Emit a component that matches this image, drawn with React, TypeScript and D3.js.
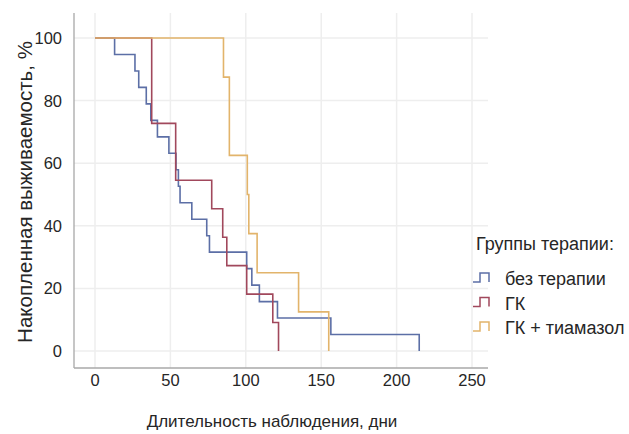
import React from "react";
import * as d3 from "d3";

const groupNames = ["без терапии", "ГК", "ГК + тиамазол"];
const groupColors = ["#5c6fa6", "#a1485c", "#e2b46b"];

const timesNoTherapy = [0, 13, 26.5, 29, 34, 37, 41.4, 49, 53.7, 55.3, 56.4, 64.2, 74.1, 75.9, 100.6, 104, 109, 121, 156.4, 215];
const survNoTherapy = [100, 94.74, 89.47, 84.21, 78.95, 73.68, 68.42, 63.16, 57.89, 52.63, 47.37, 42.11, 36.84, 31.58, 26.32, 21.05, 15.79, 10.53, 5.26, 0];

const timesGK = [0, 37.6, 53.5, 77.4, 84.7, 87.4, 100.6, 117.9, 121.7];
const survGK = [100, 72.73, 54.55, 45.45, 36.36, 27.27, 18.18, 9.09, 0];

const timesGKT = [0, 85.2, 89.1, 101, 102, 107.5, 135, 155];
const survGKT = [100, 87.5, 62.5, 50, 37.5, 25, 12.5, 0];

const xTicks = [0, 50, 100, 150, 200, 250];
const yTicks = [0, 20, 40, 60, 80, 100];

const xTitle = "Длительность наблюдения, дни";
const yTitle = "Накопленная выживаемость, %";
const legendTitle = "Группы терапии:";

const FONT = "'Liberation Sans', Arial, sans-serif";

export default function App() {
  const x = d3.scaleLinear().domain([0, 250]).range([95, 472]);
  const y = d3.scaleLinear().domain([0, 100]).range([351, 38]);
  const plotLeft = 74;
  const plotRight = 488;
  const plotTop = 13;
  const plotBottom = 368;

  const series = [
    { t: timesNoTherapy, s: survNoTherapy },
    { t: timesGK, s: survGK },
    { t: timesGKT, s: survGKT },
  ];

  const line = d3
    .line<[number, number]>()
    .x((d) => x(d[0]))
    .y((d) => y(d[1]))
    .curve(d3.curveStepAfter);

  const textColor = "#262626";

  return (
    <svg
      width={629}
      height={434}
      style={{ position: "absolute", left: 0, top: 0, background: "#fff" }}
      fontFamily={FONT}
    >
      <rect x={0} y={0} width={629} height={434} fill="#fff" />
      {yTicks.map((v) => (
        <line key={"gy" + v} x1={plotLeft} x2={plotRight} y1={y(v)} y2={y(v)} stroke="#eeeeee" strokeWidth={1.5} />
      ))}
      {xTicks.map((v) => (
        <line key={"gx" + v} x1={x(v)} x2={x(v)} y1={plotTop} y2={plotBottom} stroke="#eeeeee" strokeWidth={1.5} />
      ))}
      <line x1={plotLeft} x2={plotLeft} y1={plotTop} y2={plotBottom} stroke="#a8a8a8" strokeWidth={1.3} />
      <line x1={plotLeft} x2={plotRight} y1={plotBottom} y2={plotBottom} stroke="#a8a8a8" strokeWidth={1.3} />

      {series.map((sr, i) => (
        <path
          key={"s" + i}
          d={line(sr.t.map((t, k) => [t, sr.s[k]] as [number, number])) || ""}
          fill="none"
          stroke={groupColors[i]}
          strokeWidth={1.6}
        />
      ))}

      {yTicks.map((v) => (
        <text key={"ty" + v} x={62} y={y(v)} dy="0.36em" textAnchor="end" fontSize={16.5} fill={textColor}>
          {v}
        </text>
      ))}
      {xTicks.map((v) => (
        <text key={"tx" + v} x={x(v)} y={386} textAnchor="middle" fontSize={16.5} fill={textColor}>
          {v}
        </text>
      ))}

      <text x={272} y={427} textAnchor="middle" fontSize={17} fill={textColor}>
        {xTitle}
      </text>
      <text
        transform={`translate(32, 192) rotate(-90)`}
        textAnchor="middle"
        fontSize={20.5}
        fill={textColor}
      >
        {yTitle}
      </text>

      <text x={476} y={250} fontSize={18} fill={textColor}>
        {legendTitle}
      </text>
      {groupNames.map((g, i) => {
        const by = 285 + i * 24.5;
        return (
          <g key={"lg" + i}>
            <path
              d={`M473,${by - 3} H480 V${by - 12} H489 V${by - 3}`}
              fill="none"
              stroke={groupColors[i]}
              strokeWidth={1.5}
            />
            <text x={505} y={by} fontSize={18} fill={textColor}>
              {g}
            </text>
          </g>
        );
      })}
    </svg>
  );
}
